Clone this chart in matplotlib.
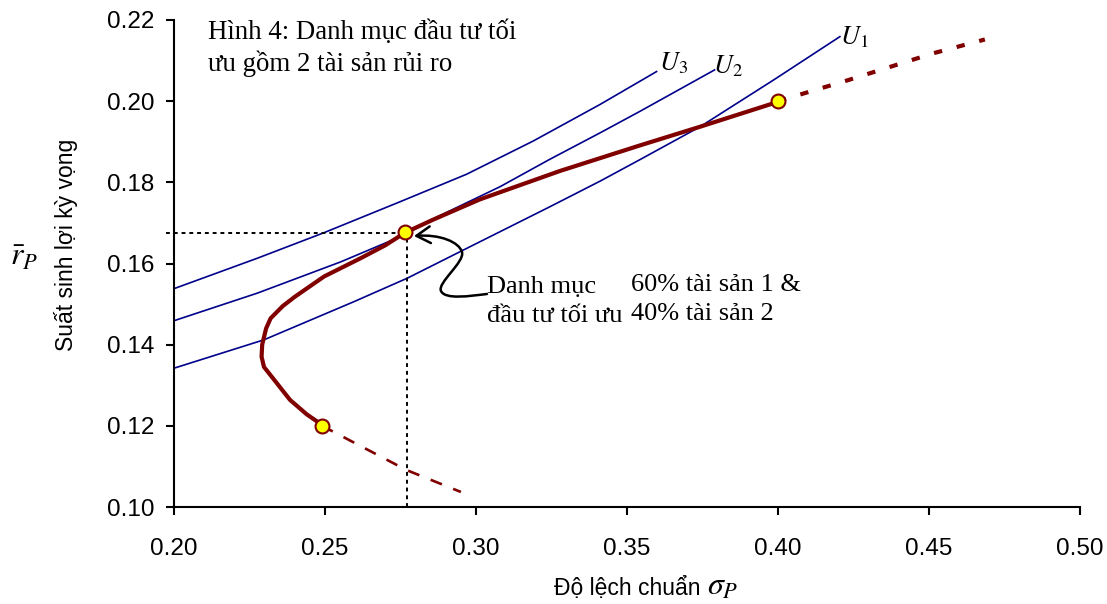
import matplotlib
matplotlib.use("Agg")
import matplotlib.pyplot as plt
from matplotlib.path import Path
from matplotlib.patches import FancyArrowPatch

# efficient frontier of the two risky assets (std dev, expected return)
frontier_sd = [0.2491, 0.2440, 0.2384, 0.2330, 0.2298, 0.2290, 0.2292, 0.2305, 0.2320,
               0.2360, 0.2400, 0.2497, 0.2618, 0.2700, 0.2765, 0.2858, 0.3013, 0.3278,
               0.3543, 0.3742, 0.3990]
frontier_ret = [0.1202, 0.1228, 0.1264, 0.1315, 0.1345, 0.1370, 0.1400, 0.1440, 0.1465,
                0.1495, 0.1518, 0.1568, 0.1613, 0.1645, 0.1676, 0.1708, 0.1758, 0.1828,
                0.1891, 0.1937, 0.1996]

# dashed continuations beyond the two assets
upper_ext_sd = [0.400, 0.4233, 0.4514, 0.4685]
upper_ext_ret = [0.200, 0.2052, 0.2118, 0.2152]
lower_ext_sd = [0.249, 0.2770, 0.2950]
lower_ext_ret = [0.120, 0.1091, 0.1037]

# asset 2, optimal portfolio, asset 1
point_sd = [0.249, 0.2765, 0.400]
point_ret = [0.120, 0.1678, 0.200]
opt_sd = 0.2772
opt_ret = 0.1674

# indifference curves
u1_sd = [0.200, 0.2298, 0.2596, 0.2773, 0.2947, 0.3245, 0.3411, 0.3543, 0.3742, 0.3985, 0.4205]
u1_ret = [0.1342, 0.1412, 0.1506, 0.1564, 0.1629, 0.1740, 0.1803, 0.1856, 0.1937, 0.2052, 0.2159]
u2_sd = [0.200, 0.2276, 0.2552, 0.2762, 0.2858, 0.3079, 0.3245, 0.3411, 0.3543, 0.3790]
u2_ret = [0.1459, 0.1527, 0.1604, 0.1670, 0.1710, 0.1789, 0.1857, 0.1922, 0.1975, 0.2077]
u3_sd = [0.200, 0.2276, 0.2497, 0.2748, 0.2969, 0.3190, 0.3411, 0.3598]
u3_ret = [0.1538, 0.1613, 0.1676, 0.1752, 0.1820, 0.1902, 0.1992, 0.2073]

x_ticks = [0.20, 0.25, 0.30, 0.35, 0.40, 0.45, 0.50]
y_ticks = [0.10, 0.12, 0.14, 0.16, 0.18, 0.20, 0.22]

plt.rcParams['font.family'] = ['Liberation Sans', 'DejaVu Sans']
plt.rcParams['mathtext.fontset'] = 'stix'
SERIF = ['Liberation Serif', 'DejaVu Serif']

RED = '#800000'
NAVY = '#00008B'

fig = plt.figure(figsize=(11.07, 6.04), dpi=100)
ax = fig.add_axes([174 / 1107, 97 / 604, 906 / 1107, 487 / 604])

for sd, ret in [(u1_sd, u1_ret), (u2_sd, u2_ret), (u3_sd, u3_ret)]:
    ax.plot(sd, ret, color=NAVY, lw=1.2, zorder=2)

ax.plot(frontier_sd, frontier_ret, color=RED, lw=3, solid_capstyle='round',
        solid_joinstyle='round', zorder=3)
ax.plot(upper_ext_sd, upper_ext_ret, color=RED, lw=3, dashes=(2, 3.6), zorder=3)
ax.plot(lower_ext_sd, lower_ext_ret, color=RED, lw=1.9, dashes=(4.6, 4.6), zorder=3)

# dotted guides to the optimum
ax.plot([0.1975, opt_sd], [opt_ret, opt_ret], color='black', lw=1.4, dashes=(2, 2),
        clip_on=False, zorder=2)
ax.plot([opt_sd, opt_sd], [0.10, opt_ret], color='black', lw=1.4, dashes=(2, 2),
        clip_on=False, zorder=2)

ax.plot(point_sd, point_ret, 'o', ms=10, mfc='#FFFF00', mec=RED, mew=1.5, zorder=5)

# curly arrow pointing at the optimal portfolio
verts = [(0.30364, 0.15249),
         (0.29801, 0.15200), (0.28974, 0.15101), (0.28841, 0.15323),
         (0.28709, 0.15520), (0.29636, 0.16037), (0.29536, 0.16284),
         (0.29437, 0.16530), (0.28808, 0.16727), (0.27947, 0.16677)]
codes = [Path.MOVETO] + [Path.CURVE4] * 9
arrow = FancyArrowPatch(path=Path(verts, codes), arrowstyle='->,head_length=0.5,head_width=0.3',
                        mutation_scale=20, color='black', lw=1.8,
                        transform=ax.transData, zorder=4)
ax.add_patch(arrow)

# curve labels
ax.text(0.3605, 0.2075, r'$U_3$', fontsize=19, ha='left', va='baseline')
ax.text(0.3785, 0.2068, r'$U_2$', fontsize=19, ha='left', va='baseline')
ax.text(0.4205, 0.2140, r'$U_1$', fontsize=19, ha='left', va='baseline')

# text blocks, one line at a time
ax.text(0.2113, 0.21525, 'Hình 4: Danh mục đầu tư tối', family=SERIF, fontsize=19.4, va='baseline')
ax.text(0.2113, 0.20744, 'ưu gồm 2 tài sản rủi ro', family=SERIF, fontsize=19.4, va='baseline')
ax.text(0.30364, 0.15266, 'Danh mục', family=SERIF, fontsize=19, va='baseline')
ax.text(0.30364, 0.14566, 'đầu tư tối ưu', family=SERIF, fontsize=19, va='baseline')
ax.text(0.3512, 0.15323, '60% tài sản 1 &', family=SERIF, fontsize=19, va='baseline')
ax.text(0.3512, 0.14608, '40% tài sản 2', family=SERIF, fontsize=19, va='baseline')

ax.set_xlim(0.20, 0.50)
ax.set_ylim(0.10, 0.22)
ax.set_xticks(x_ticks)
ax.set_yticks(y_ticks)
ax.set_xticklabels([f'{v:.2f}' for v in x_ticks])
ax.set_yticklabels([f'{v:.2f}' for v in y_ticks])

ax.spines['top'].set_visible(False)
ax.spines['right'].set_visible(False)
ax.spines['left'].set_linewidth(1.5)
ax.spines['bottom'].set_linewidth(1.5)
ax.tick_params(direction='out', length=6, width=1.5, labelsize=17.5)
ax.tick_params(axis='x', pad=16)
ax.tick_params(axis='y', pad=8)

fig.text(66 / 1107, 1 - 245 / 604, 'Suất sinh lợi kỳ vọng', fontsize=16.5,
         rotation=90, ha='center', va='center')
fig.text(24 / 1107, 1 - 258 / 604, r'$\bar{r}_P$', fontsize=23, ha='center', va='center')
fig.text(700 / 1107, 9 / 604, 'Độ lệch chuẩn', fontsize=16.5, ha='right', va='baseline')
fig.text(707 / 1107, 9 / 604, r'$\sigma_P$', fontsize=23, ha='left', va='baseline')

fig.savefig('out.png', dpi=100)
